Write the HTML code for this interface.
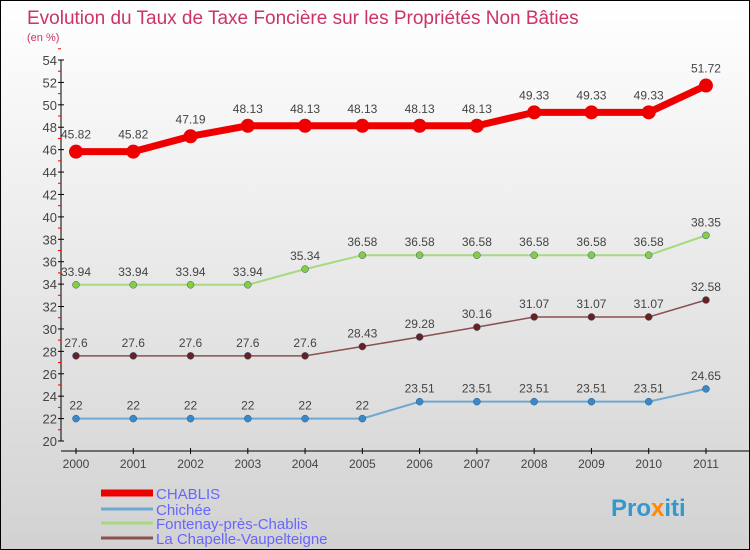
<!DOCTYPE html>
<html><head><meta charset="utf-8"><style>
body{margin:0}
#c{width:750px;height:550px;position:relative;box-sizing:border-box;border:1px solid #000;background:linear-gradient(#ffffff,#d2d2d2);font-family:"Liberation Sans",sans-serif;overflow:hidden}
svg text{font-family:"Liberation Sans",sans-serif}
</style></head><body>
<div id="c">
<svg id="s" width="750" height="550">
<text x="26" y="23" font-size="19" fill="#cc3366">Evolution du Taux de Taxe Foncière sur les Propriétés Non Bâties</text>
<text x="26" y="40" font-size="11" fill="#cc3366">(en %)</text>
<g id="plot"></g>
<text x="610" y="515" font-size="24" font-weight="bold" fill="#3399cc">Pro<tspan fill="#ff8800">x</tspan>iti</text>
</svg>
</div>
<script>
const years=[2000,2001,2002,2003,2004,2005,2006,2007,2008,2009,2010,2011];
const chablis=[45.82,45.82,47.19,48.13,48.13,48.13,48.13,48.13,49.33,49.33,49.33,51.72];
const chichee=[22,22,22,22,22,22,23.51,23.51,23.51,23.51,23.51,24.65];
const fontenay=[33.94,33.94,33.94,33.94,35.34,36.58,36.58,36.58,36.58,36.58,36.58,38.35];
const chapelle=[27.6,27.6,27.6,27.6,27.6,28.43,29.28,30.16,31.07,31.07,31.07,32.58];
const yTicks=[20,22,24,26,28,30,32,34,36,38,40,42,44,46,48,50,52,54];
const names=["CHABLIS","Chichée","Fontenay-près-Chablis","La Chapelle-Vaupelteigne"];
const NS="http://www.w3.org/2000/svg";
const g=document.getElementById('plot');
const X=i=>75+i*57.27;
const Y=v=>440-(v-20)*(381/34);
function el(t,a,p){const e=document.createElementNS(NS,t);for(const k in a)e.setAttribute(k,a[k]);(p||g).appendChild(e);return e;}
let ax=el('line',{x1:60,y1:59,x2:60,y2:440,stroke:'#000'});


let bx=el('line',{x1:60,y1:450,x2:750,y2:450,stroke:'#000'});


yTicks.forEach(v=>{
 el('line',{x1:57,x2:63,y1:Y(v),y2:Y(v),stroke:'#000'});
 el('line',{x1:57,x2:60,y1:Y(v+1),y2:Y(v+1),stroke:'#e00'});
 const t=el('text',{x:56,y:Y(v)+5,'font-size':13,fill:'#444','text-anchor':'end'});t.textContent=v;
 
 
});
years.forEach((y,i)=>{
 el('line',{x1:X(i),x2:X(i),y1:447,y2:453,stroke:'#000'});
 const t=el('text',{x:X(i),y:467,'font-size':12,fill:'#444','text-anchor':'middle'});t.textContent=y;
 
 
});
const series=[[chablis,'#ee0000',7,7],[chichee,'#6fa8d0',2,3.5],[fontenay,'#a8d880',2,3.5],[chapelle,'#8b5050',1.5,3.5]];
const dot=['#ee0000','#3a88c8','#88cc44','#6a2020'];
series.forEach(([d,c,w,r],si)=>{
 const p=el('polyline',{points:d.map((v,i)=>X(i)+','+Y(v)).join(' '),fill:'none',stroke:c,'stroke-width':w});
 
 
 d.forEach((v,i)=>{
  const m=el('circle',{cx:X(i),cy:Y(v),r:r,fill:dot[si],stroke:si?'#2a5a80':'none','stroke-width':si?0.5:0});
  
  
  const t=el('text',{x:X(i),y:Y(v)-(si?9:13),'font-size':12,fill:'#444','text-anchor':'middle'});t.textContent=v;
  
  
 });
});
const lc=['#ee0000','#6fa8d0','#a8d880','#8b5050'],lw=[7,3,3,3],ly=[492,508,522,537];
names.forEach((n,i)=>{
 const l=el('line',{x1:100,x2:152,y1:ly[i],y2:ly[i],stroke:lc[i],'stroke-width':lw[i]});
 
 
 const t=el('text',{x:155,y:ly[i]+6,'font-size':15,fill:'#6666ff'});t.textContent=n;
 
 
});
</script>
</body></html>
